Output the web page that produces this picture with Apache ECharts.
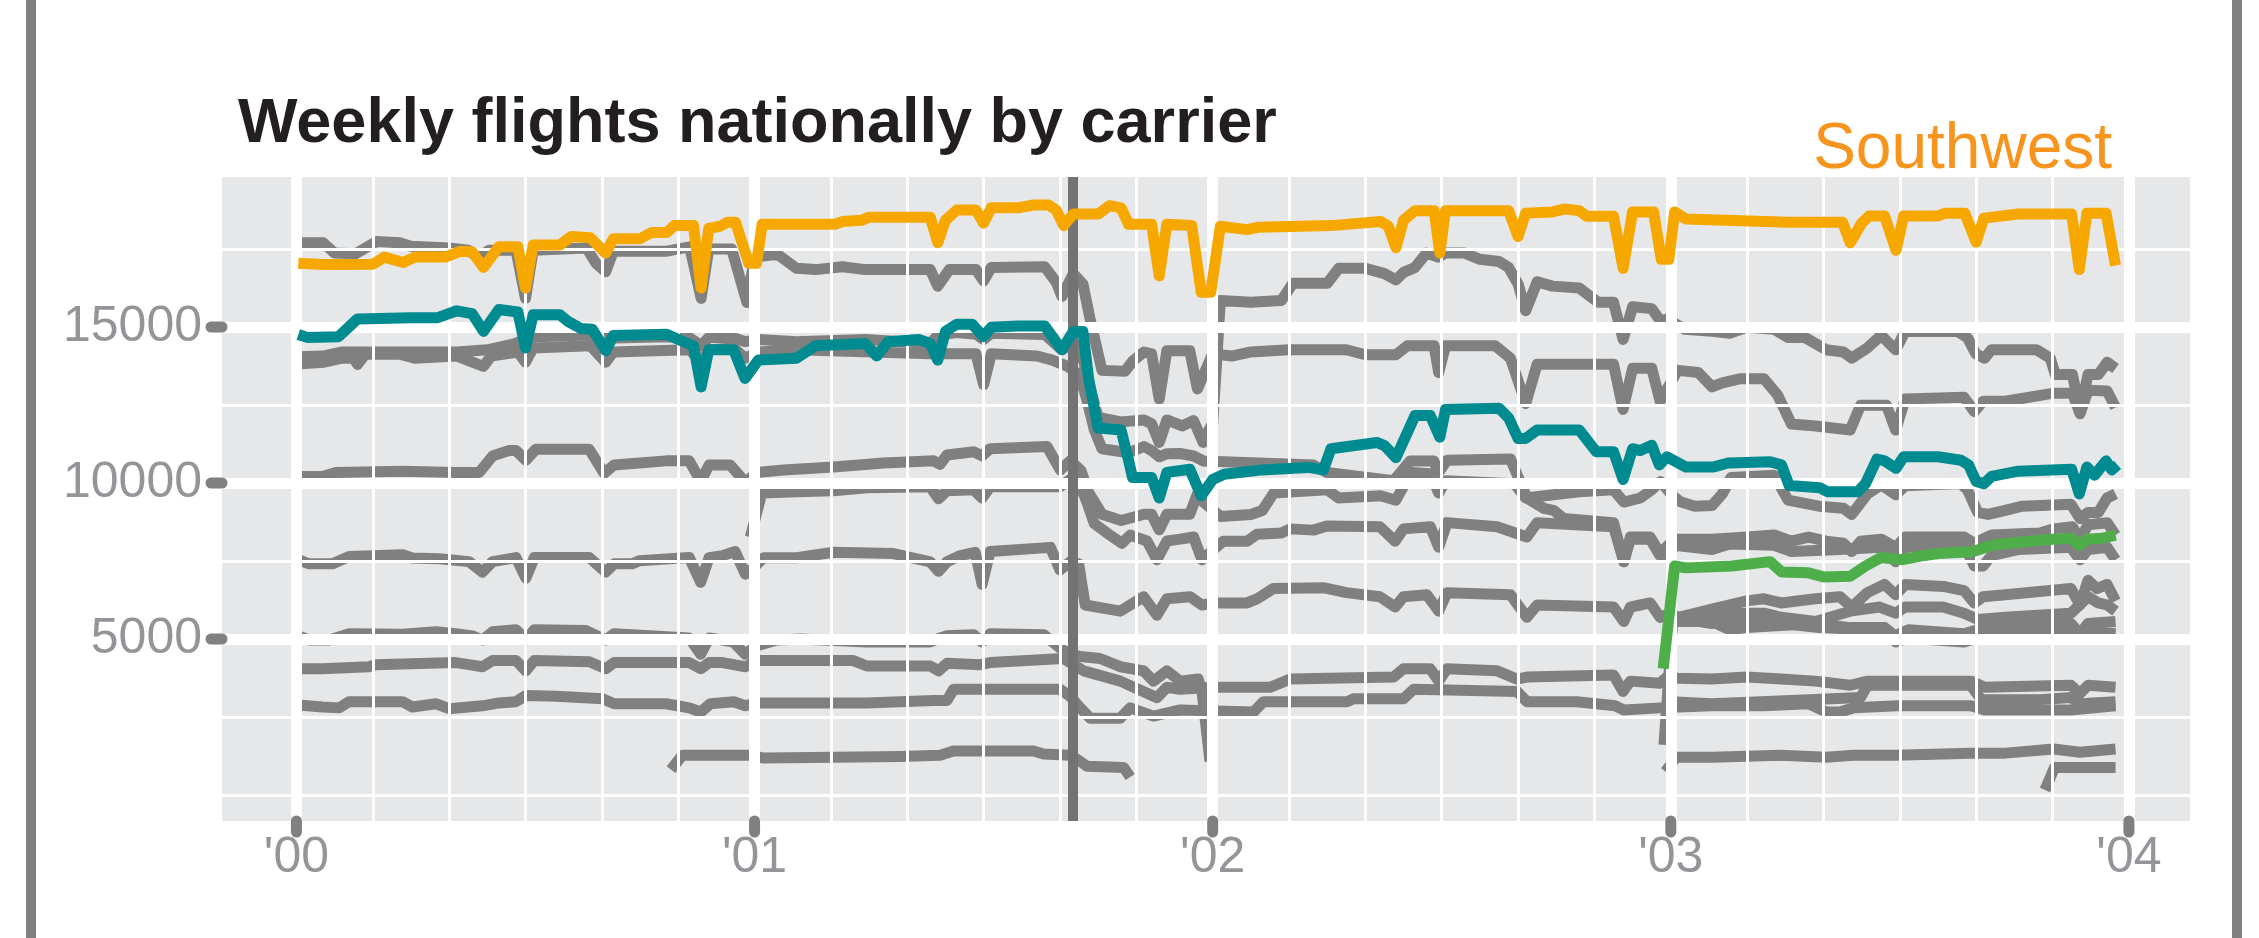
<!DOCTYPE html>
<html><head><meta charset="utf-8">
<script src="https://cdn.jsdelivr.net/npm/echarts@6/dist/echarts.min.js"></script>
<style>html,body{margin:0;padding:0;background:#fff}#c{width:2259px;height:938px}</style>
</head><body><div id="c"></div>
<script>
// x = months since Jan 2000, y = weekly flights
const yearTicks = [0, 12, 24, 36, 48];
const yearLabels = ["'00", "'01", "'02", "'03", "'04"];
const yTicks = [5000, 10000, 15000];
const sept11 = 20.33;

const southwest = [[0.05,17040],[0.7,17000],[2.0,17010],[2.3,17240],[2.8,17070],[3.1,17240],[3.9,17240],[4.3,17430],[4.6,17410],[4.9,16910],[5.3,17570],[5.8,17570],[6.0,16250],[6.2,17630],[6.9,17630],[7.2,17900],[7.7,17860],[8.1,17370],[8.3,17830],[9.0,17830],[9.3,18030],[9.7,18030],[9.9,18250],[10.4,18250],[10.6,16250],[10.8,18160],[11.1,18230],[11.3,18360],[11.5,18360],[11.85,17040],[12.05,17040],[12.2,18290],[14.1,18290],[14.3,18380],[14.8,18420],[15.0,18520],[16.6,18520],[16.8,17700],[17.0,18420],[17.3,18750],[17.8,18750],[18.0,18330],[18.2,18820],[18.9,18820],[19.3,18910],[19.7,18910],[19.9,18750],[20.1,18250],[20.35,18620],[21.0,18620],[21.3,18890],[21.6,18820],[21.8,18290],[22.4,18290],[22.6,16640],[22.8,18290],[23.45,18250],[23.7,16115],[23.95,16115],[24.2,18230],[24.9,18120],[25.2,18200],[27.1,18250],[28.4,18380],[28.6,18230],[28.8,17540],[29.0,18420],[29.3,18730],[29.8,18730],[29.95,17370],[30.1,18730],[31.75,18730],[32.0,17900],[32.2,18650],[32.9,18690],[33.2,18780],[33.6,18730],[33.8,18550],[34.5,18550],[34.75,16880],[35.0,18690],[35.55,18690],[35.75,17170],[35.95,17170],[36.1,18690],[36.4,18460],[39.1,18360],[40.5,18360],[40.7,17700],[41.0,18330],[41.2,18560],[41.6,18560],[41.9,17460],[42.1,18560],[43.0,18560],[43.2,18650],[43.7,18650],[44.0,17720],[44.2,18490],[45.1,18620],[46.5,18620],[46.7,16840],[46.9,18650],[47.4,18650],[47.65,16970]];

const tealCarrier = [[0.05,14760],[0.3,14660],[1.1,14690],[1.6,15260],[3.0,15300],[3.7,15300],[4.2,15520],[4.6,15430],[4.9,14860],[5.3,15560],[5.8,15480],[6.0,14330],[6.2,15390],[6.9,15390],[7.1,15190],[7.45,14950],[7.75,14930],[8.1,14240],[8.3,14730],[9.7,14770],[10.0,14600],[10.4,14400],[10.6,13080],[10.8,14270],[11.45,14270],[11.75,13350],[12.1,13940],[13.1,14000],[13.6,14400],[14.9,14470],[15.2,14070],[15.5,14530],[16.3,14600],[16.6,14470],[16.8,13940],[17.0,14860],[17.3,15090],[17.7,15090],[18.0,14690],[18.2,14990],[18.9,15030],[19.6,15030],[20.05,14270],[20.35,14860],[20.6,14860],[20.75,13350],[21.0,11760],[21.6,11700],[21.8,10710],[21.9,10180],[22.4,10180],[22.6,9520],[22.8,10340],[23.4,10440],[23.7,9590],[24.0,10110],[24.3,10280],[25.3,10420],[26.5,10500],[26.9,10420],[27.1,11100],[28.3,11300],[28.5,11200],[28.8,10810],[29.3,12160],[29.7,12160],[29.95,11470],[30.1,12360],[31.5,12400],[31.75,12090],[32.0,11430],[32.2,11430],[32.5,11700],[33.6,11700],[34.05,11000],[34.5,11000],[34.75,10110],[35.0,11100],[35.2,11040],[35.5,11210],[35.7,10580],[35.9,10840],[36.4,10510],[37.1,10510],[37.5,10640],[38.6,10680],[38.9,10580],[39.1,9920],[39.9,9850],[40.1,9720],[40.9,9720],[41.1,9980],[41.4,10770],[41.6,10710],[41.9,10470],[42.1,10840],[43.0,10840],[43.6,10730],[43.8,10580],[44.0,10050],[44.2,9980],[44.4,10210],[45.1,10380],[46.5,10440],[46.7,9650],[46.9,10510],[47.1,10250],[47.4,10710],[47.55,10420],[47.7,10580]];

const greenCarrier = [[35.8,4050],[36.1,7340],[36.4,7280],[37.6,7340],[38.6,7480],[38.9,7150],[39.6,7120],[40.0,6990],[40.7,7010],[41.1,7340],[41.5,7610],[42.05,7540],[42.6,7670],[43.0,7740],[43.9,7800],[44.4,8000],[45.1,8100],[46.0,8200],[46.5,8230],[46.7,8000],[46.9,8200],[47.3,8230],[47.65,8330]];

const gray1 = [[0.05,17700],[0.7,17700],[1.0,17370],[1.55,17350],[2.1,17740],[2.7,17700],[3.0,17590],[4.0,17530],[4.5,17460],[4.75,17240],[5.05,17460],[5.75,17460],[6.0,15920],[6.2,17460],[7.6,17530],[7.85,17040],[8.1,16770],[8.3,17430],[9.7,17430],[10.3,17570],[10.6,15920],[10.8,17500],[11.4,17500],[11.8,15790],[12.0,17240],[12.6,17330],[13.1,16880],[13.6,16840],[14.3,16930],[14.9,16840],[16.6,16840],[16.8,16310],[17.1,16840],[17.8,16840],[18.0,16480],[18.2,16910],[19.6,16930],[19.9,16440],[20.05,15980],[20.35,16710],[20.6,16380],[20.8,15190],[21.1,13610],[21.7,13580],[21.9,13900],[22.2,14200],[22.4,14140],[22.6,12690],[22.8,14240],[23.4,14240],[23.6,13015],[24.0,14140],[24.5,14070],[25.0,14200],[26.0,14270],[27.5,14270],[28.0,14110],[28.8,14110],[29.1,14400],[29.8,14400],[29.92,13540],[30.1,14400],[31.4,14400],[31.8,14000],[32.2,12550],[32.5,13810],[34.5,13810],[34.75,12360],[35.0,13680],[35.5,13680],[35.72,12620],[36.18,13610],[36.72,13540],[37.08,13080],[37.35,13210],[37.8,13340],[38.44,13340],[38.8,12820],[39.16,11890],[39.79,11830],[40.7,11700],[40.97,12490],[41.65,12490],[41.89,11700],[42.14,12690],[43.68,12750],[43.95,12290],[44.18,12620],[44.76,12620],[46.03,12880],[46.52,12880],[46.72,12220],[46.93,12970],[47.43,12950],[47.65,12420]];

const gray2 = [[0.05,14050],[0.7,14070],[1.2,14200],[2.0,14200],[4.2,14200],[5.0,14270],[5.7,14460],[6.0,14600],[6.3,14690],[7.7,14740],[8.1,14640],[9.7,14690],[10.3,14660],[10.6,14400],[10.8,14660],[11.45,14660],[11.75,14530],[12.1,14600],[13.1,14530],[14.9,14600],[16.6,14470],[16.8,14740],[17.3,14820],[17.8,14770],[18.0,14600],[18.2,14800],[19.6,14760],[20.05,14270],[20.35,14500],[20.6,14000],[20.8,13000],[21.0,12100],[21.6,11960],[22.2,12020],[22.4,11900],[22.6,11300],[22.8,12020],[23.2,11830],[23.5,12000],[23.75,11300],[23.9,11700],[24.0,11900],[24.1,13800],[24.2,15850],[25.0,15790],[25.8,15850],[26.1,16400],[27.0,16400],[27.3,16880],[28.0,16880],[28.5,16710],[28.8,16510],[29.0,16750],[29.3,16910],[29.6,17370],[29.9,17240],[30.1,17370],[30.6,17370],[31.0,17170],[31.5,17100],[31.75,16910],[32.0,16380],[32.2,15520],[32.5,16450],[32.9,16310],[33.6,16250],[34.1,15790],[34.5,15790],[34.75,14600],[35.0,15650],[35.5,15590],[35.73,15190],[35.91,15260],[36.36,14930],[37.08,14860],[37.54,14800],[37.99,14990],[38.71,14930],[39.07,14660],[39.52,14660],[40.07,14270],[40.52,14200],[40.74,14000],[41.15,14330],[41.51,14730],[41.89,14270],[42.14,14860],[43.5,14860],[43.77,14660],[43.99,14140],[44.22,14000],[44.4,14270],[45.58,14270],[45.94,14000],[46.07,13480],[46.52,13480],[46.72,12290],[46.93,13480],[47.2,13480],[47.43,13870],[47.65,13670]];

const gray3 = [[0.05,13810],[0.7,13870],[1.2,14000],[1.5,14000],[1.6,13800],[1.8,14130],[2.7,14130],[3.1,14000],[4.2,14070],[4.9,13740],[5.1,14070],[5.8,14200],[6.0,13870],[6.2,14330],[7.7,14400],[8.1,13870],[8.3,14200],[10.3,14270],[10.6,13870],[10.8,14270],[11.45,14330],[11.75,14000],[12.1,14200],[13.1,14270],[16.6,14140],[17.8,14140],[18.0,13150],[18.2,14140],[19.4,14070],[19.8,13940],[20.2,13740],[20.5,13480],[20.7,12690],[20.9,11700],[21.1,11100],[21.8,10970],[22.2,11170],[22.4,11040],[22.6,10840],[22.8,10940],[23.15,10945],[23.5,10865],[23.76,10707],[26.64,10575],[26.99,10338],[28.74,10074],[29.17,10707],[29.79,10707],[29.92,10338],[30.14,10733],[31.8,10773],[32.23,9520],[32.67,9190],[32.93,9124],[33.19,8860],[34.5,8728],[34.77,7475],[34.94,8267],[35.46,8267],[35.72,7740],[36.09,8201],[37.08,8201],[37.99,8267],[38.71,8333],[39.16,8135],[39.61,8267],[40.07,8135],[40.52,8069],[40.74,7805],[40.97,8135],[41.51,8201],[41.89,7937],[42.14,8267],[43.68,8267],[43.95,8069],[44.4,8333],[45.67,8399],[46.03,8531],[46.52,8597],[46.72,8201],[46.93,8663],[47.43,8728],[47.65,8333]];

const gray4 = [[0.05,10210],[0.68,10210],[1.03,10340],[2.78,10380],[4.17,10340],[4.79,10340],[5.14,10870],[5.57,11040],[5.75,11040],[6.01,10730],[6.27,11080],[7.67,11080],[8.06,10310],[8.32,10580],[8.98,10640],[9.68,10710],[10.29,10710],[10.59,10050],[10.81,10580],[11.36,10580],[11.76,10020],[12.06,10340],[12.76,10420],[14.07,10510],[15.38,10640],[16.69,10710],[16.86,10600],[17.04,10900],[17.74,11000],[17.96,10870],[18.17,11100],[19.66,11170],[20.01,10420],[20.27,10710],[20.55,10400],[20.75,9700],[21.1,9000],[21.6,8800],[22.2,9000],[22.4,9000],[22.6,8500],[22.8,9000],[23.4,9000],[23.6,9650],[23.75,9400],[24.2,8930],[25.0,8990],[25.3,9120],[25.6,9680],[27.0,9780],[27.3,9520],[28.4,9590],[28.8,9450],[29.2,10340],[29.7,10300],[29.92,9680],[30.1,10070],[31.9,9980],[32.2,9520],[33.6,9720],[34.5,9780],[34.77,9390],[35.2,9520],[35.5,9780],[35.73,10048],[36.05,9586],[36.27,9388],[36.63,9256],[37.08,9280],[37.35,9652],[37.58,10180],[38.71,10245],[39.07,9454],[39.88,9256],[40.52,9190],[40.74,8992],[41.15,9652],[41.51,9942],[41.89,9625],[42.14,9915],[43.59,9981],[43.77,9784],[44.04,9058],[44.31,8992],[44.76,9124],[45.21,9256],[46.48,9322],[46.72,8860],[46.93,9058],[47.2,9058],[47.43,9520],[47.65,9652]];

const gray5 = [[11.89,8267],[12.19,9678],[13.11,9720],[14.07,9750],[14.94,9850],[16.6,9880],[16.82,9494],[17.04,9750],[17.74,9780],[17.96,9520],[18.17,9880],[20.0,9880],[20.27,10113],[20.49,10050],[20.7,9400],[20.9,8700],[21.23,8400],[21.62,8070],[21.84,8330],[22.28,8140],[22.54,7540],[22.8,8140],[23.15,8200],[23.5,8270],[23.72,7540],[24.02,7870],[24.28,8135],[24.9,8135],[25.16,8360],[25.8,8400],[26.03,8530],[26.64,8490],[26.99,8620],[28.38,8600],[28.78,8135],[29.0,8530],[29.7,8600],[29.92,7940],[30.14,8730],[31.45,8600],[32.23,8270],[32.5,8730],[34.5,8600],[34.77,7475],[34.94,8200],[35.46,8200],[35.72,7670],[35.98,7670],[36.09,8003],[37.08,7871],[37.54,8043],[38.71,8003],[39.16,7805],[40.43,7871],[41.51,7937],[41.89,7475],[42.14,7937],[43.68,8003],[43.95,7343],[44.18,7343],[44.4,7673],[45.12,7871],[46.48,7937],[46.72,7541],[46.93,7871],[47.43,7937],[47.65,7541]];

const gray6 = [[0.05,7541],[0.33,7409],[0.94,7409],[1.38,7647],[2.78,7700],[3.04,7600],[3.74,7570],[4.52,7480],[4.87,7145],[5.14,7480],[5.75,7610],[6.01,6948],[6.23,7610],[7.67,7610],[8.1,7145],[8.32,7409],[8.8,7409],[8.98,7510],[10.29,7610],[10.59,6816],[10.81,7610],[11.16,7673],[11.49,7805],[11.76,7080],[11.97,7277],[12.24,7607],[13.11,7607],[14.07,7779],[15.64,7740],[16.6,7475],[16.82,7170],[17.04,7475],[17.39,7673],[17.78,7779],[17.96,6750],[18.17,7805],[19.75,7937],[20.0,7211],[20.27,7475],[20.49,7409],[20.66,6090],[21.58,5893],[22.19,6354],[22.54,5761],[22.8,6288],[23.41,6354],[23.72,6090],[24.02,6156],[24.9,6156],[25.16,6288],[25.59,6618],[26.9,6645],[27.5,6486],[28.38,6354],[28.78,6024],[29.0,6354],[29.61,6420],[29.92,5893],[30.14,6486],[31.8,6420],[32.23,5695],[32.5,6090],[34.5,6024],[34.77,5563],[34.94,6024],[35.2,6090],[35.46,6156],[35.72,5695],[35.98,5827],[36.18,5695],[37.08,5827],[38.44,5827],[38.89,5695],[39.79,5563],[40.7,5893],[41.47,6024],[41.89,5827],[42.14,6024],[43.13,6024],[43.68,5827],[44.04,5629],[44.76,5695],[46.48,5827],[46.93,6354],[47.2,6156],[47.43,6090],[47.65,5893]];

const gray7 = [[0.05,5101],[0.33,4969],[0.85,4969],[1.38,5167],[2.78,5150],[3.65,5233],[4.17,5167],[4.61,5101],[4.87,4969],[5.14,5233],[5.75,5299],[6.01,4969],[6.23,5299],[7.58,5270],[8.1,4969],[8.32,5167],[10.29,5035],[10.59,4508],[10.81,5035],[11.16,4969],[11.45,4900],[11.76,4508],[12.02,4770],[12.59,4969],[13.2,5000],[14.94,4903],[16.6,4903],[16.86,5035],[17.04,5101],[17.74,5140],[17.96,4903],[18.17,5167],[19.57,5140],[20.01,4705],[20.27,4508],[20.53,4442],[21.05,4376],[21.58,4112],[22.19,3980],[22.45,3650],[22.8,3980],[23.15,3650],[23.62,3716],[23.72,3320],[23.93,1078]];

const gray8 = [[0.05,4046],[0.68,4046],[1.9,4112],[2.07,4178],[2.78,4200],[4.17,4244],[4.52,4178],[4.87,4112],[5.14,4310],[5.75,4310],[6.01,3980],[6.23,4310],[7.67,4270],[8.1,4046],[8.32,4244],[10.29,4244],[10.59,4046],[10.81,4244],[11.16,4244],[11.45,4178],[11.76,4112],[12.06,4310],[14.59,4310],[14.94,4135],[16.6,4135],[16.82,3980],[17.04,4220],[17.91,4178],[18.17,4244],[20.09,4376],[20.62,3980],[21.58,3650],[21.93,3452],[22.54,3122],[22.8,3452],[23.15,3386],[24.02,3452],[25.5,3452],[26.03,3716],[28.74,3782],[29.0,4046],[29.7,4046],[29.92,3650],[30.14,4046],[31.45,3980],[31.97,3716],[32.23,3782],[34.5,3848],[34.75,3320],[34.94,3650],[35.72,3584],[35.9,3782],[36.18,3742],[37.08,3716],[37.99,3782],[38.89,3716],[39.79,3650],[40.7,3518],[41.15,3650],[43.86,3650],[44.22,3452],[46.48,3518],[46.72,3254],[46.93,3518],[47.65,3452]];

const gray9 = [[0.05,2885],[0.68,2819],[1.12,2793],[1.38,2991],[2.78,2991],[3.04,2819],[3.65,2925],[4.0,2766],[4.87,2859],[5.31,2951],[5.75,2991],[6.01,3188],[6.8,3162],[8.02,3083],[8.32,2925],[9.68,2925],[10.29,2793],[10.59,2661],[10.84,2925],[11.45,2991],[11.76,2859],[12.02,2951],[14.94,2951],[16.69,3030],[17.04,3030],[17.21,3386],[20.0,3386],[20.27,3162],[20.53,2793],[20.79,2463],[21.58,2463],[21.84,2793],[22.45,2529],[23.15,2727],[25.07,2661],[25.33,2991],[27.52,2991],[27.69,3083],[29.0,3083],[29.26,3386],[31.97,3320],[32.23,2991],[33.54,2991],[34.54,2859],[34.77,2727],[35.72,2793],[37.08,2859],[38.44,2859],[39.61,2925],[40.07,2661],[40.43,2661],[40.79,2793],[41.96,2859],[43.86,2859],[44.22,2727],[46.48,2727],[47.65,2859]];

const gray10 = [[9.81,815],[10.11,1276],[11.89,1276],[12.24,1184],[14.07,1210],[15.82,1237],[16.86,1276],[17.21,1408],[19.31,1408],[19.57,1316],[20.27,1276],[20.53,1078],[20.71,920],[21.67,880],[21.84,577]];

const gray11 = [[36.0,5630],[37.08,5959],[37.99,6222],[38.44,6288],[38.89,6156],[39.79,6288],[40.43,6354],[40.74,6024],[41.15,6486],[41.6,6750],[41.89,6420],[42.14,6750],[43.14,6684],[43.68,6552],[43.95,6156],[44.18,6354],[44.76,6420],[46.48,6618],[46.72,6090],[46.93,6882],[47.16,6618],[47.43,6750],[47.65,6222]];

const gray12 = [[35.82,1606],[36.05,5563],[37.08,5563],[37.54,5299],[37.99,5365],[38.89,5431],[39.79,5497],[40.7,5365],[41.6,5365],[41.87,5101],[42.23,5299],[43.68,5167],[44.04,5299],[44.76,5431],[46.48,5497],[46.72,5167],[46.93,5497],[47.65,5563]];

const gray13 = [[36.0,5700],[37.08,5497],[38.44,5563],[39.88,5365],[41.15,5299],[41.69,5167],[41.89,4903],[42.23,5035],[43.68,4903],[44.04,5035],[44.76,5167],[46.48,5167],[46.72,5035],[46.93,5233],[47.65,5167]];

const gray14 = [[36.0,2991],[37.08,2925],[39.61,3057],[40.97,3122],[41.15,3518],[43.86,3518],[44.13,3057],[45.67,3057],[46.48,3122],[46.72,2925],[47.65,2991]];

const gray15 = [[35.86,749],[36.14,1210],[37.08,1210],[38.89,1276],[40.07,1210],[40.79,1276],[41.87,1276],[43.86,1342],[44.76,1342],[46.03,1474],[46.72,1368],[47.65,1474]];

const gray16 = [[45.8,160],[46.05,880],[47.65,880]];

const grayLines = [gray1, gray2, gray3, gray4, gray5, gray6, gray7, gray8, gray9, gray10, gray11, gray12, gray13, gray14, gray15, gray16];

const X_MIN = -1.95, X_MAX = 49.6, Y_MIN = -833, Y_MAX = 19808;

const chart = echarts.init(document.getElementById('c'), null, {renderer: 'canvas'});

const gridMarks = [];
for (let m = 0; m <= 48; m += 2) {
  gridMarks.push({xAxis: m, lineStyle: {color: '#ffffff', type: 'solid', width: m % 12 === 0 ? 11 : 3}});
}
for (let v = 0; v <= 17500; v += 2500) {
  gridMarks.push({yAxis: v, lineStyle: {color: '#ffffff', type: 'solid', width: (v > 0 && v % 5000 === 0) ? 11 : 3}});
}

const LW = 11;
function lineSeries(data, color, z) {
  return {
    type: 'line', data: data, symbol: 'none', showSymbol: false, silent: true,
    animation: false, z: z, emphasis: {disabled: true},
    lineStyle: {color: color, width: LW, join: 'round', cap: 'butt'}
  };
}

const series = [
  {type: 'line', data: [], z: 1, silent: true, animation: false,
   markLine: {silent: true, symbol: ['none', 'none'], label: {show: false}, animation: false, data: gridMarks}}
];
grayLines.forEach(d => series.push(lineSeries(d, '#808080', 3)));
series.push({type: 'line', data: [], z: 4, silent: true, animation: false,
  markLine: {silent: true, symbol: ['none', 'none'], label: {show: false}, animation: false,
    data: [{xAxis: sept11, lineStyle: {color: '#737373', type: 'solid', width: 10}}]}});
series.push(lineSeries(greenCarrier, '#4dae4a', 5));
series.push(lineSeries(tealCarrier, '#008b91', 6));
series.push(lineSeries(southwest, '#f6a800', 7));

const baseGraphic = [
  {type: 'rect', shape: {x: 26, y: 0, width: 10, height: 938}, style: {fill: '#808080'}, silent: true},
  {type: 'rect', shape: {x: 2232, y: 0, width: 10, height: 938}, style: {fill: '#808080'}, silent: true},
  {type: 'text', style: {x: 238, y: 125, text: 'Weekly flights nationally by carrier', font: 'bold 63px "Liberation Sans"', fill: '#231f20', textAlign: 'left', textVerticalAlign: 'middle'}, silent: true},
  {type: 'text', style: {x: 2112, y: 150, text: 'Southwest', font: '64px "Liberation Sans"', fill: '#f7941d', textAlign: 'right', textVerticalAlign: 'middle'}, silent: true}
];

chart.setOption({
  backgroundColor: '#ffffff',
  animation: false,
  grid: {left: 222, right: 69, top: 177, bottom: 117, show: true, backgroundColor: '#e6e7e8', borderWidth: 0},
  xAxis: {
    type: 'value', min: X_MIN, max: X_MAX,
    axisLine: {show: false}, splitLine: {show: false}, axisTick: {show: false},
    axisLabel: {customValues: yearTicks, margin: 12, color: '#939598', fontSize: 50, fontFamily: 'Liberation Sans',
      formatter: v => yearLabels[yearTicks.indexOf(v)]}
  },
  yAxis: {
    type: 'value', min: Y_MIN, max: Y_MAX,
    axisLine: {show: false}, splitLine: {show: false}, axisTick: {show: false},
    axisLabel: {customValues: yTicks, margin: 20, color: '#939598', fontSize: 50, fontFamily: 'Liberation Sans',
      formatter: v => String(v)}
  },
  graphic: baseGraphic,
  series: series
});

// axis ticks: rounded gray pills placed with the chart's own scales
const tickGraphic = [];
const tickStyle = {stroke: '#808080', lineWidth: 11, lineCap: 'round'};
yearTicks.forEach(m => {
  const p = chart.convertToPixel({xAxisIndex: 0, yAxisIndex: 0}, [m, Y_MIN]);
  tickGraphic.push({type: 'line', z: 50, silent: true, shape: {x1: p[0], y1: p[1], x2: p[0], y2: p[1] + 11}, style: tickStyle});
});
yTicks.forEach(v => {
  const p = chart.convertToPixel({xAxisIndex: 0, yAxisIndex: 0}, [X_MIN, v]);
  tickGraphic.push({type: 'line', z: 50, silent: true, shape: {x1: p[0] - 11, y1: p[1], x2: p[0], y2: p[1]}, style: tickStyle});
});
chart.setOption({graphic: baseGraphic.concat(tickGraphic)});
</script></body></html>
